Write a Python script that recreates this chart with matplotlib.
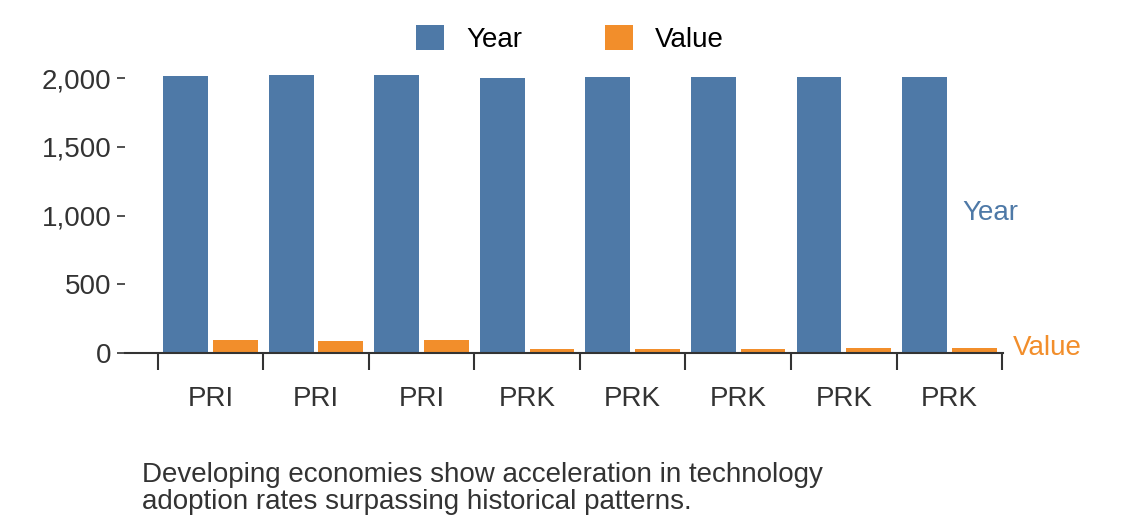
import matplotlib.pyplot as plt
import numpy as np

plt.rcParams['font.family'] = ['Liberation Sans', 'DejaVu Sans']

# Datos
categorias = ["PRI", "PRI", "PRI", "PRK", "PRK", "PRK", "PRK", "PRK"]
anos = [2018, 2019, 2021, 2004, 2006, 2006, 2007, 2008]
valores = [95, 87, 95, 30, 30, 31, 35, 38]

azul = '#4e79a7'
laranja = '#f28e2b'

fig = plt.figure(figsize=(11.4, 5.28), dpi=100)
ax = fig.add_axes([0.1096, 0.3314, 0.7704, 0.5416])

x = np.arange(len(categorias))
w = 0.425
ax.bar(x - 0.235, anos, w, color=azul, label='Year')
ax.bar(x + 0.235, valores, w, color=laranja, label='Value')

ax.set_xlim(-0.81, 7.51)
ax.set_ylim(0, 2080)
for s in ['top', 'right', 'left']:
    ax.spines[s].set_visible(False)
ax.spines['bottom'].set_linewidth(1.5)
ax.spines['bottom'].set_color('#333333')

ax.set_yticks([0, 500, 1000, 1500, 2000])
ax.set_yticklabels(['0', '500', '1,000', '1,500', '2,000'])
ax.tick_params(axis='y', labelsize=20, colors='#333333', length=6, width=1.2)

# ticks nas fronteiras das categorias
ax.set_xticks(np.arange(len(categorias) + 1) - 0.5)
ax.set_xticklabels([])
ax.tick_params(axis='x', length=12, width=1.5, color='#333333')
for i, c in enumerate(categorias):
    ax.text(i, -240, c, ha='center', va='top', fontsize=20, color='#333333')

ax.text(7.12, 1020, 'Year', color=azul, fontsize=20, va='center')
ax.text(7.6, valores[-1], 'Value', color=laranja, fontsize=20, va='center')

fig.legend(loc='upper center', bbox_to_anchor=(0.5, 1.0), ncol=2, frameon=False,
           fontsize=20, handlelength=1.0, handleheight=1.0, columnspacing=3)

fig.text(0.125, 0.025, "Developing economies show acceleration in technology\nadoption rates surpassing historical patterns.",
         fontsize=20, color='#333333', va='bottom', linespacing=1.05)

plt.savefig('out.png')
